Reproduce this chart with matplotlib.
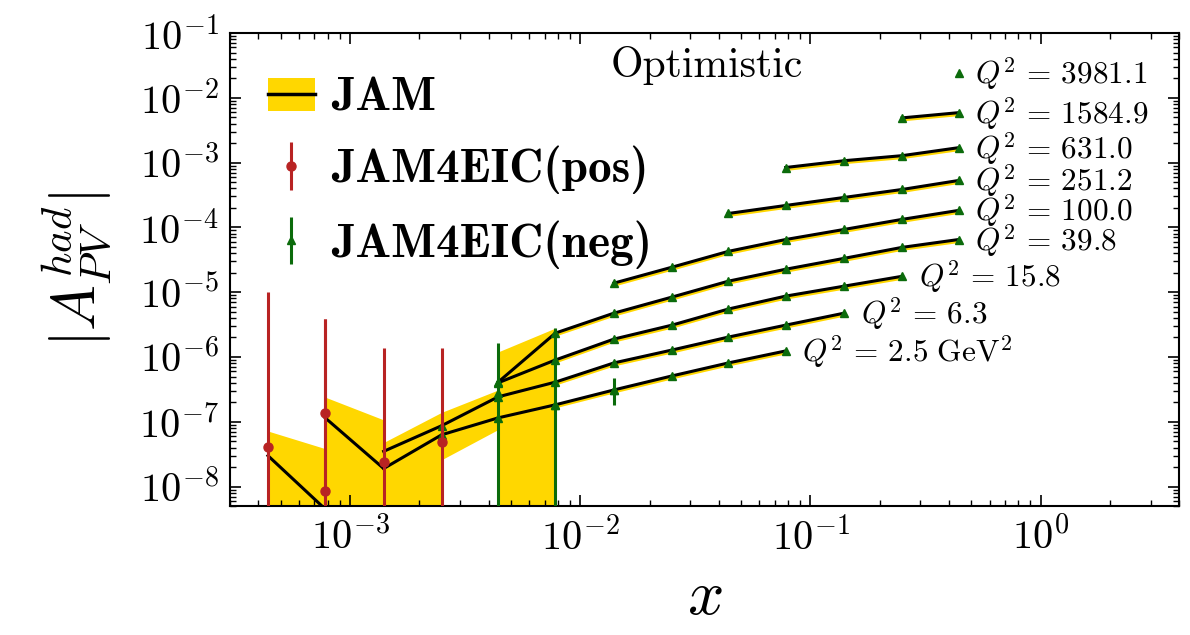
import numpy as np
import matplotlib
matplotlib.use("Agg")
import matplotlib.pyplot as plt
from matplotlib.patches import Patch
from matplotlib.lines import Line2D
from matplotlib.ticker import LogLocator, NullFormatter

plt.rcParams["mathtext.fontset"] = "cm"
plt.rcParams["font.family"] = "serif"
plt.rcParams["font.serif"] = ["cmr10", "DejaVu Serif"]
plt.rcParams["axes.formatter.use_mathtext"] = True

# x bins (common grid)
x_bins = [4.4e-4, 7.8e-4, 1.4e-3, 2.5e-3, 4.4e-3, 7.8e-3, 1.4e-2,
          2.5e-2, 4.4e-2, 7.8e-2, 0.14, 0.25, 0.44]

# JAM curves per Q2 bin (start index in x_bins, values)
q2_labels = [r"$Q^2\,=\,2.5\ \mathrm{GeV}^2$", r"$Q^2\,=\,6.3$", r"$Q^2\,=\,15.8$",
             r"$Q^2\,=\,39.8$", r"$Q^2\,=\,100.0$", r"$Q^2\,=\,251.2$",
             r"$Q^2\,=\,631.0$", r"$Q^2\,=\,1584.9$", r"$Q^2\,=\,3981.1$"]
q2_start = [2, 2, 4, 4, 6, 8, 9, 11, 12]
jam_q2_2p5 = [1.9e-8, 6.3e-8, 1.15e-7, 1.83e-7, 3.1e-7, 5.1e-7, 8.1e-7, 1.24e-6]
jam_q2_6p3 = [3.5e-8, 8.7e-8, 2.43e-7, 4.1e-7, 8.1e-7, 1.28e-6, 2.03e-6, 3.1e-6, 4.75e-6]
jam_q2_15p8 = [4.0e-7, 9.0e-7, 1.89e-6, 3.1e-6, 5.5e-6, 8.7e-6, 1.24e-5, 1.76e-5]
jam_q2_39p8 = [4.1e-7, 2.34e-6, 4.75e-6, 8.4e-6, 1.48e-5, 2.26e-5, 3.33e-5, 4.92e-5, 6.5e-5]
jam_q2_100 = [1.38e-5, 2.43e-5, 4.27e-5, 6.5e-5, 9.3e-5, 1.33e-4, 1.83e-4]
jam_q2_251 = [1.64e-4, 2.18e-4, 2.9e-4, 3.85e-4, 5.3e-4]
jam_q2_631 = [8.4e-4, 1.07e-3, 1.28e-3, 1.70e-3]
jam_q2_1585 = [4.9e-3, 5.9e-3]
jam_q2_3981 = [2.43e-2]

# low-x pieces without label
low_start = [0, 1]
jam_low_a = [3.0e-8, 4.5e-9]
jam_low_b = [1.15e-7, 1.9e-8]

# JAM uncertainty band pieces at low x (start index, lower, upper)
band_start = [0, 1, 2, 3, 4]
band_lo = [[1e-14, 1e-14], [1e-14, 1e-14], [1e-14, 1e-14],
           [2.6e-8, 7.6e-8], [1e-14, 1e-14]]
band_hi = [[7.2e-8, 3.85e-8], [2.4e-7, 1.07e-7], [4.8e-8, 1.4e-7],
           [1.4e-7, 3.1e-7], [1.2e-6, 2.8e-6]]
band_rel = (0.9, 1.02)   # thin band elsewhere

# JAM4EIC (pos) pseudo-data
pos_x = [4.4e-4, 7.8e-4, 7.8e-4, 1.4e-3, 2.5e-3]
pos_y = [4.1e-8, 1.38e-7, 8.7e-9, 2.4e-8, 4.9e-8]
pos_lo = [1e-14, 1e-14, 1e-14, 1e-14, 1e-14]
pos_hi = [1.0e-5, 3.85e-6, 3.85e-6, 1.39e-6, 1.39e-6]

# JAM4EIC (neg) pseudo-data with visible error bars
neg_x = [4.4e-3, 7.8e-3, 1.4e-2]
neg_y = [2.8e-7, 1.83e-7, 3.1e-7]
neg_lo = [1e-14, 1e-14, 1.8e-7]
neg_hi = [1.65e-6, 2.8e-6, 4.8e-7]

gold = "#FFD700"
red = "#B82323"
green = "#0B6B0B"

fig = plt.figure(figsize=(11.9, 6.35), dpi=100)
ax = fig.add_axes([0.193, 0.203, 0.798, 0.745])

curves = [jam_q2_2p5, jam_q2_6p3, jam_q2_15p8, jam_q2_39p8, jam_q2_100,
          jam_q2_251, jam_q2_631, jam_q2_1585, jam_q2_3981]

# bands
for s, lo, hi in zip(band_start, band_lo, band_hi):
    xs = x_bins[s:s + len(lo)]
    ax.fill_between(xs, lo, hi, color=gold, lw=0, zorder=1)
for s, ys in zip(q2_start, curves):
    xs = x_bins[s:s + len(ys)]
    ys = np.array(ys)
    ax.fill_between(xs, ys * band_rel[0], ys * band_rel[1], color=gold, lw=0, zorder=1)

# lines
for s, ys in zip(low_start, [jam_low_a, jam_low_b]):
    ax.plot(x_bins[s:s + len(ys)], ys, color="k", lw=2.2, zorder=2)
for s, ys in zip(q2_start, curves):
    ax.plot(x_bins[s:s + len(ys)], ys, color="k", lw=2.2, zorder=2)

# neg markers sitting on the curves
for s, ys in zip(q2_start, curves):
    xs = np.array(x_bins[s:s + len(ys)])
    ys = np.array(ys)
    m = xs >= 2.5e-3
    ax.plot(xs[m], ys[m], ls="none", marker="^", ms=5.5, color=green, zorder=4)

neg = ax.errorbar(neg_x, neg_y,
                  yerr=[np.array(neg_y) - np.array(neg_lo), np.array(neg_hi) - np.array(neg_y)],
                  fmt="^", ms=5.5, color=green, elinewidth=2.2, capsize=0, zorder=4)
pos = ax.errorbar(pos_x, pos_y,
                  yerr=[np.array(pos_y) - np.array(pos_lo), np.array(pos_hi) - np.array(pos_y)],
                  fmt="o", ms=6.5, color=red, elinewidth=2.2, capsize=0, zorder=5)

# Q2 labels
for s, ys, lab in zip(q2_start, curves, q2_labels):
    ax.annotate(lab, (x_bins[s + len(ys) - 1], ys[-1]), xytext=(12, -1),
                textcoords="offset points", va="center", ha="left", fontsize=22.5)

ax.text(0.502, 0.932, "Optimistic", transform=ax.transAxes, ha="center",
        va="center", fontsize=30)

ax.set_xscale("log")
ax.set_yscale("log")
ax.set_xlim(3e-4, 4.0)
ax.set_ylim(5e-9, 1e-1)
for axis in (ax.xaxis, ax.yaxis):
    axis.set_major_locator(LogLocator(base=10, numticks=20))
    axis.set_minor_locator(LogLocator(base=10, subs=np.arange(2, 10), numticks=20))
    axis.set_minor_formatter(NullFormatter())
ax.tick_params(which="both", direction="in", top=True, right=True, labelsize=29)
ax.tick_params(which="major", length=8, width=1.2, pad=8)
ax.tick_params(which="minor", length=4.5, width=1.0)
for sp in ax.spines.values():
    sp.set_linewidth(1.5)

ax.set_xlabel(r"$x$", fontsize=46, labelpad=8)
ax.set_ylabel(r"$|A_{PV}^{had}|$", fontsize=44, labelpad=18)

jam_handle = (Patch(facecolor=gold, edgecolor="none"), Line2D([], [], color="k", lw=2.5))
ax.legend([jam_handle, pos, neg],
          ["JAM", "JAM4EIC(pos)", "JAM4EIC(neg)"],
          loc="upper left", bbox_to_anchor=(0.02, 0.945), frameon=False,
          prop={"family": "cmb10", "size": 34},
          handlelength=1.0, handleheight=0.7, labelspacing=0.55,
          handletextpad=0.35, borderaxespad=0.0)

fig.savefig("out.png", dpi=100)
